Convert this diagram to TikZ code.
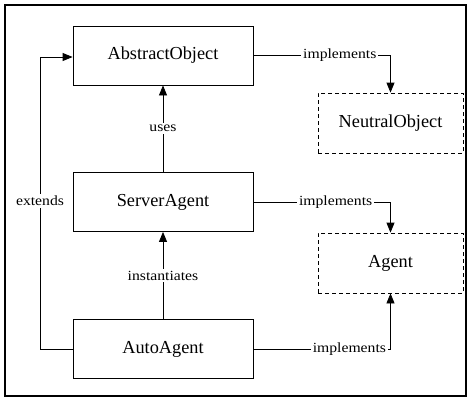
\documentclass[tikz,border=0pt]{standalone}
\usepackage{fontspec}
\setmainfont{Liberation Serif}
\newfontfamily\lblfont[FakeStretch=1.12]{Liberation Serif}
\usetikzlibrary{arrows.meta}
\begin{document}
\begin{tikzpicture}[x=1pt,y=-1pt,
  cls/.style={draw,line width=0.8pt,minimum width=180pt,minimum height=59pt,inner sep=0pt,font=\fontsize{18.3}{20}\selectfont},
  iface/.style={draw,dashed,dash pattern=on 4pt off 3pt,line width=0.8pt,minimum width=145pt,minimum height=60pt,inner sep=0pt,font=\fontsize{18.3}{20}\selectfont},
  lbl/.style={fill=white,inner sep=2pt,font=\lblfont\fontsize{14}{15}\selectfont},
  conn/.style={line width=0.8pt},
  arr/.style={conn,-{Triangle[length=10pt,width=8pt]}}]
\useasboundingbox (0,0) rectangle (469,400);
\draw[line width=2.5pt] (5,5) rectangle (466,396);
\node[cls] (AO) at (163,55.5) {AbstractObject};
\node[iface] (NO) at (390.5,123) {NeutralObject};
\node[cls] (SA) at (163,202) {ServerAgent};
\node[iface] (AG) at (390.5,263) {Agent};
\node[cls] (AA) at (163,349) {AutoAgent};
\coordinate (c1) at (AO.east -| NO.north);
\coordinate (c2) at (SA.east -| AG.north);
\coordinate (c3) at (AA.east -| AG.south);
\coordinate (e1) at (40,349);
\coordinate (e2) at (40,57);
\coordinate (e3) at (AO.west |- e2);
\draw[arr] (AO.east) -- node[lbl,pos=0.63]{implements} (c1) -- (NO.north);
\draw[arr] (SA.east) -- node[lbl,pos=0.6]{implements} (c2) -- (AG.north);
\draw[arr] (AA.east) -- node[lbl,pos=0.7]{implements} (c3) -- (AG.south);
\draw[arr] (SA.north) -- node[lbl]{uses} (AO.south);
\draw[arr] (AA.north) -- node[lbl]{instantiates} (SA.south);
\draw[arr] (AA.west) -- (e1) -- node[lbl,pos=0.507]{extends} (e2) -- (e3);
\end{tikzpicture}
\end{document}
